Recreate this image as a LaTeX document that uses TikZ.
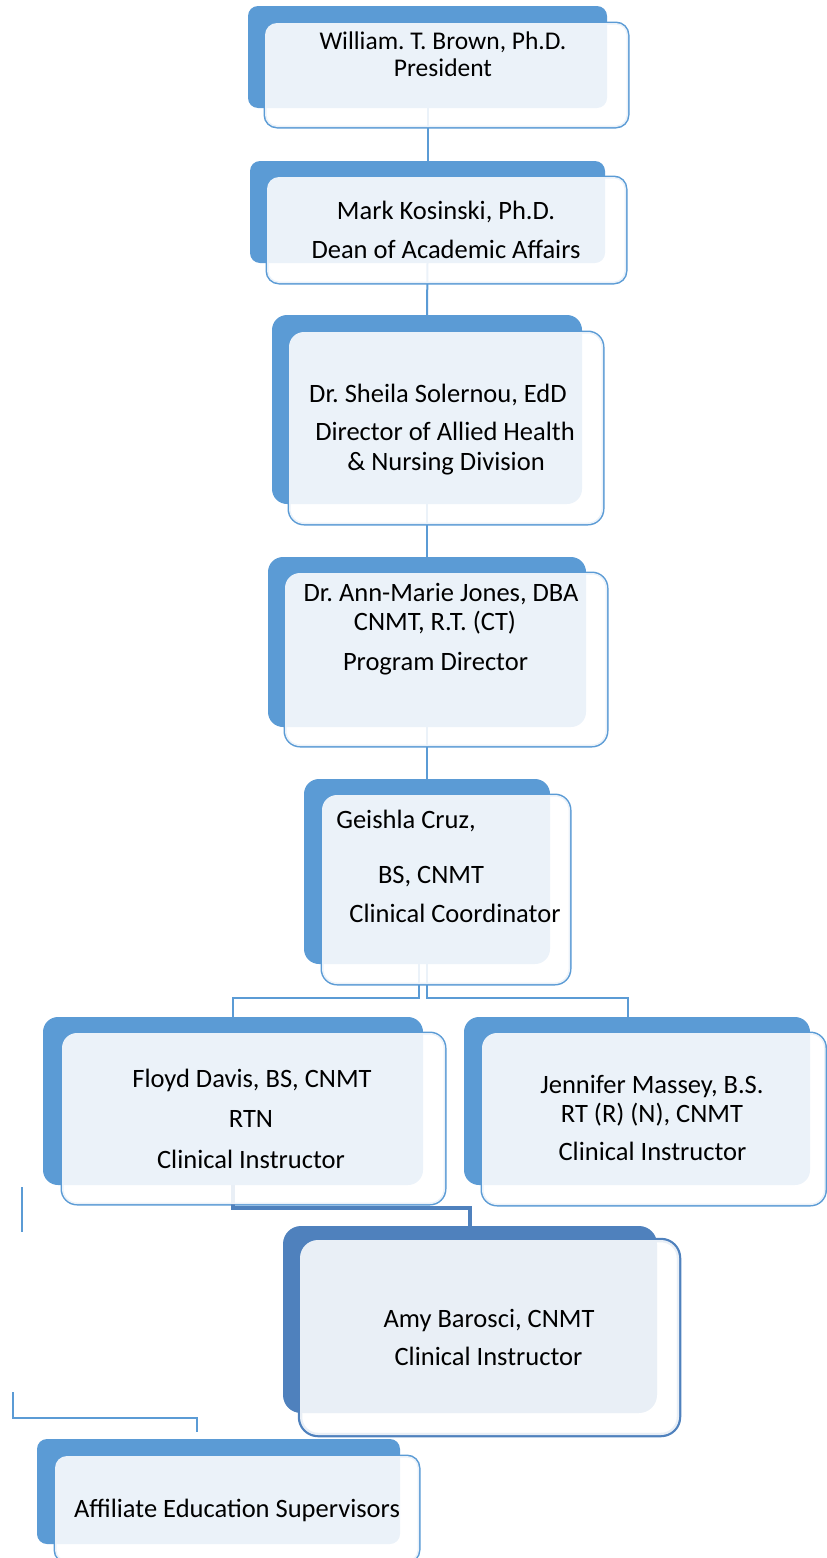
\documentclass[tikz,border=0pt]{standalone}
\usepackage{fontspec}
\setmainfont{Carlito}
\usepackage{tikz}
\frenchspacing
\definecolor{blueA}{RGB}{91,155,213}
\definecolor{blueB}{RGB}{79,129,189}
\tikzstyle{backbox}=[fill=blueA, rounded corners=10pt, inner sep=0pt, outer sep=0pt]
\tikzstyle{frontbox}=[draw=blueA, line width=3pt, rounded corners=12pt, inner sep=0pt, outer sep=0pt]
\tikzstyle{veil}=[fill=white, fill opacity=0.88, rounded corners=12pt]
\tikzstyle{link}=[draw=blueA, line width=2pt]
\tikzstyle{txt}=[anchor=base, inner sep=0pt, font=\fontsize{26.5}{30}\selectfont]

\begin{document}
\begin{tikzpicture}[x=1pt, y=-1pt]
		   \useasboundingbox (0,0) rectangle (827,1558);
		   \clip (0,0) rectangle (827,1558);
		   \begin{scope}
			   \node (f1) at (446.5,75)[frontbox, minimum width=363, minimum height=104] {};
			   \node (f2) at (446.5,230)[frontbox, minimum width=359, minimum height=106] {};
			   \node (f3) at (446,428)[frontbox, minimum width=314, minimum height=192, rounded corners=15pt] {};
			   \node (f4) at (446,659.5)[frontbox, minimum width=322, minimum height=173, rounded corners=15pt] {};
			   \node (f5) at (446,889.5)[frontbox, minimum width=248, minimum height=189, rounded corners=15pt] {};
			   \node (f6) at (253.5,1118.5)[frontbox, minimum width=383, minimum height=171, rounded corners=15pt] {};
			   \node (f7) at (653.75,1119)[frontbox, minimum width=343.5, minimum height=172, rounded corners=15pt] {};
			   \node (f8) at (489.5,1337.5)[frontbox, draw=blueB, line width=4.5pt, minimum width=379, minimum height=195, rounded corners=18pt] {};
			   \node (f9) at (237,1509)[frontbox, minimum width=364, minimum height=106] {};
		   \end{scope}
		   \begin{scope}
			   \node (b1) at (427.5,57)[backbox, minimum width=359, minimum height=102] {};
			   \node (b2) at (427.5,212)[backbox, minimum width=355, minimum height=102] {};
			   \node (b3) at (427,409.5)[backbox, minimum width=310, minimum height=189, rounded corners=15pt] {};
			   \node (b4) at (427,642)[backbox, minimum width=318, minimum height=170, rounded corners=15pt] {};
			   \node (b5) at (427,871.5)[backbox, minimum width=246, minimum height=185, rounded corners=15pt] {};
			   \node (b6) at (233,1101)[backbox, minimum width=380, minimum height=168, rounded corners=15pt] {};
			   \node (b7) at (637,1101)[backbox, minimum width=346, minimum height=168, rounded corners=15pt] {};
			   \node (b8) at (470,1319.5)[backbox, fill=blueB, minimum width=374, minimum height=187, rounded corners=18pt] {};
			   \node (b9) at (218.5,1491.5)[backbox, minimum width=363, minimum height=105] {};
			   \coordinate (s1) at (22,1187);
			   \coordinate (s2) at (22,1232);
			   \coordinate (s3) at (13,1392);
			   \coordinate (s4) at (197,1432);
		   \end{scope}
		   \begin{scope}
			   \path [link] (b1.south) edge (b2.north);
			   \path [link] (b2.south) edge (b3.north);
			   \path [link] (b3.south) edge (b4.north);
			   \path [link] (b4.south) edge (b5.north);
			   \draw [link] ([xshift=-8pt]b5.south) -- ++(0,34) -| (b6.north);
			   \draw [link] (b5.south) -- ++(0,34) -| ([xshift=-9pt]b7.north);
			   \draw [link, draw=blueB, line width=4pt] (b6.south) -- ++(0,23) -| (b8.north);
			   \draw [link] (s1) -- (s2);
			   \draw [link] (s3) -- ++(0,26) -| (s4);
		   \end{scope}
		   \begin{scope}
			   \path [veil] (f1.south west) rectangle (f1.north east);
			   \path [veil] (f2.south west) rectangle (f2.north east);
			   \path [veil, rounded corners=15pt] (f3.south west) rectangle (f3.north east);
			   \path [veil, rounded corners=15pt] (f4.south west) rectangle (f4.north east);
			   \path [veil, rounded corners=15pt] (f5.south west) rectangle (f5.north east);
			   \path [veil, rounded corners=15pt] (f6.south west) rectangle (f6.north east);
			   \path [veil, rounded corners=15pt] (f7.south west) rectangle (f7.north east);
			   \path [veil, rounded corners=18pt] (f8.south west) rectangle (f8.north east);
			   \path [veil] (f9.south west) rectangle (f9.north east);
		   \end{scope}
		   \begin{scope}
			   \node (t1a) at (443,49)[txt, font=\fontsize{25.5}{30}\selectfont] {William. T. Brown, Ph.D.};
			   \node (t1b) at (443,76)[txt, font=\fontsize{25.5}{30}\selectfont] {President};
			   \node (t2a) at (446,219)[txt] {Mark Kosinski, Ph.D.};
			   \node (t2b) at (446,258)[txt] {Dean of Academic Affairs};
			   \node (t3a) at (438,402)[txt] {Dr. Sheila Solernou, EdD};
			   \node (t3b) at (445,440)[txt] {Director of Allied Health};
			   \node (t3c) at (446,470)[txt] {\& Nursing Division};
			   \node (t4a) at (441,601)[txt] {Dr. Ann-Marie Jones, DBA};
			   \node (t4b) at (435,630)[txt] {CNMT, R.T. (CT)};
			   \node (t4c) at (435.5,670)[txt] {Program Director};
			   \node (t5a) at (406,828)[txt] {Geishla Cruz,};
			   \node (t5b) at (431,883)[txt] {BS, CNMT};
			   \node (t5c) at (455,922)[txt] {Clinical Coordinator};
			   \node (t6a) at (252,1087)[txt] {Floyd Davis, BS, CNMT};
			   \node (t6b) at (251,1127)[txt] {RTN};
			   \node (t6c) at (251,1168)[txt] {Clinical Instructor};
			   \node (t7a) at (652,1093)[txt] {Jennifer Massey, B.S.};
			   \node (t7b) at (652,1122)[txt] {RT (R) (N), CNMT};
			   \node (t7c) at (652.5,1160)[txt] {Clinical Instructor};
			   \node (t8a) at (489,1327)[txt] {Amy Barosci, CNMT};
			   \node (t8b) at (488.5,1365)[txt] {Clinical Instructor};
			   \node (t9a) at (237,1517)[txt] {Affiliate Education Supervisors};
		   \end{scope}
\end{tikzpicture}
\end{document}
